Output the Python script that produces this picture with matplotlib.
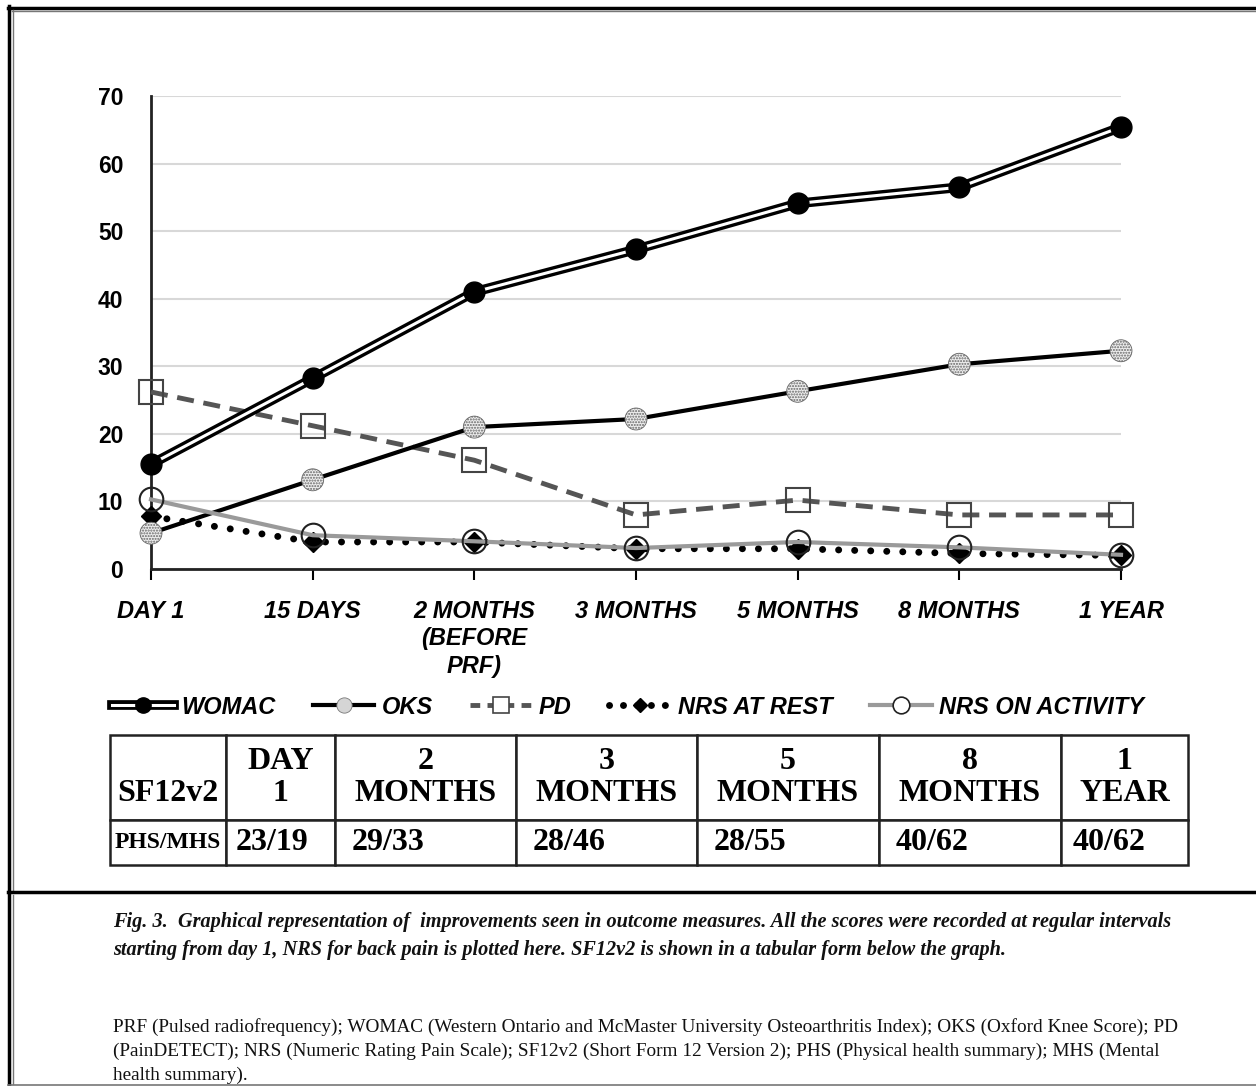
import matplotlib
matplotlib.use("Agg")
import matplotlib.pyplot as plt
from matplotlib.lines import Line2D
from matplotlib.legend_handler import HandlerTuple
from matplotlib.table import Table

# data
timepoints = ["DAY 1", "15 DAYS", "2 MONTHS\n(BEFORE\nPRF)", "3 MONTHS",
              "5 MONTHS", "8 MONTHS", "1 YEAR"]
womac = [15.5, 28.2, 41.0, 47.3, 54.1, 56.5, 65.4]
oks = [5.3, 13.2, 21.0, 22.2, 26.3, 30.3, 32.3]
pd_score = [26.2, 21.2, 16.1, 8.0, 10.2, 8.0, 8.0]
nrs_rest = [7.8, 4.0, 4.0, 3.0, 3.0, 2.3, 2.0]
nrs_activity = [10.3, 5.0, 4.1, 3.1, 4.0, 3.2, 2.1]

table_header = ["SF12v2", "DAY\n1", "2\nMONTHS", "3\nMONTHS", "5\nMONTHS", "8\nMONTHS", "1\nYEAR"]
table_values = ["PHS/MHS", "23/19", "29/33", "28/46", "28/55", "40/62", "40/62"]

caption = ("Fig. 3.  Graphical representation of  improvements seen in outcome measures. All the scores were recorded at regular intervals\n"
           "starting from day 1, NRS for back pain is plotted here. SF12v2 is shown in a tabular form below the graph.")
abbrev = ("PRF (Pulsed radiofrequency); WOMAC (Western Ontario and McMaster University Osteoarthritis Index); OKS (Oxford Knee Score); PD\n"
          "(PainDETECT); NRS (Numeric Rating Pain Scale); SF12v2 (Short Form 12 Version 2); PHS (Physical health summary); MHS (Mental\n"
          "health summary).")

W, H = 1256, 1086
fig = plt.figure(figsize=(W / 100, H / 100), dpi=100)

def box(l, t, r, b):
    # left, top, right, bottom in pixels from top-left -> figure fraction rect
    return [l / W, 1 - b / H, (r - l) / W, (b - t) / H]

sans = ["Liberation Sans", "DejaVu Sans"]
serif = ["Liberation Serif", "DejaVu Serif"]

ax = fig.add_axes(box(151, 96, 1121, 569))
x = list(range(len(timepoints)))

# WOMAC: double line
ax.plot(x, womac, color="black", lw=7, solid_capstyle="butt", zorder=5, clip_on=False)
ax.plot(x, womac, color="white", lw=2.2, zorder=6, clip_on=False)
ax.plot(x, womac, ls="none", marker="o", ms=15, color="black", zorder=7, clip_on=False)

# OKS
ax.plot(x, oks, color="black", lw=3, zorder=4, clip_on=False)
ax.scatter(x, oks, s=250, facecolor="#eeeeee", edgecolor="#666666", hatch="......",
           linewidth=0.6, zorder=5, clip_on=False)

# PD
ax.plot(x, pd_score, color="#555555", lw=3.5, dashes=(3.5, 2), zorder=3, clip_on=False)
ax.plot(x, pd_score, ls="none", marker="s", ms=17, mfc="none", mec="#444444",
        mew=1.5, zorder=3, clip_on=False)

# NRS at rest
ax.plot(x, nrs_rest, color="black", lw=5, dashes=(0.01, 2.3),
        dash_capstyle="round", zorder=3, clip_on=False)
ax.plot(x, nrs_rest, ls="none", marker="D", ms=10, color="black", zorder=3, clip_on=False)

# NRS on activity
ax.plot(x, nrs_activity, color="#9a9a9a", lw=3, zorder=4, clip_on=False)
ax.plot(x, nrs_activity, ls="none", marker="o", ms=17, mfc="none",
        mec="#222222", mew=1.5, zorder=4, clip_on=False)

ax.set_xlim(0, 6)
ax.set_ylim(0, 70)
ax.set_yticks(range(0, 71, 10))
ax.set_xticks(x)
ax.set_xticklabels(timepoints, fontsize=17, fontweight="bold", style="italic",
                   family=sans, linespacing=1.25)
for lab in ax.get_yticklabels():
    lab.set_fontsize(16.5)
    lab.set_fontweight("bold")
    lab.set_family(sans)
ax.tick_params(axis="x", length=8, width=1.5, pad=14, direction="out")
ax.tick_params(axis="y", length=0, pad=20)
ax.grid(axis="y", color="#d8d8d8", lw=1.5)
ax.set_axisbelow(True)
for s in ["top", "right"]:
    ax.spines[s].set_visible(False)
ax.spines["left"].set_linewidth(2)
ax.spines["bottom"].set_linewidth(2)
ax.spines["left"].set_color("#222222")
ax.spines["bottom"].set_color("#222222")

# legend
h_womac = (Line2D([], [], color="black", lw=7), Line2D([], [], color="white", lw=2.2),
           Line2D([], [], ls="none", marker="o", ms=11, color="black"))
h_oks = (Line2D([], [], color="black", lw=3),
         Line2D([], [], ls="none", marker="o", ms=11, mfc="#d5d5d5", mec="#777777", mew=0.6))
h_pd = Line2D([], [], color="#555555", lw=3.5, dashes=(2, 1.5), marker="s", ms=11,
              mfc="white", mec="#444444", mew=1.2)
h_rest = Line2D([], [], color="black", lw=5, dashes=(0.01, 2.0), dash_capstyle="round",
                marker="D", ms=7)
h_act = Line2D([], [], color="#9a9a9a", lw=3, marker="o", ms=12, mfc="white",
               mec="#222222", mew=1.2)
fig.legend([h_womac, h_oks, h_pd, h_rest, h_act],
           ["WOMAC", "OKS", "PD", "NRS AT REST", "NRS ON ACTIVITY"],
           handler_map={tuple: HandlerTuple(ndivide=1)},
           loc="center", bbox_to_anchor=(628 / W, 1 - 707 / H), ncol=5,
           frameon=False, handlelength=2.6, handletextpad=0.3, columnspacing=1.6,
           prop={"family": sans, "weight": "bold", "style": "italic", "size": 17})

# SF12v2 table
tax = fig.add_axes(box(110, 735, 1188, 865))
tax.axis("off")
tbl = Table(tax, bbox=[0, 0, 1, 1])
col_w = [116, 109, 181, 181, 182, 182, 127]
for j, (hd, val) in enumerate(zip(table_header, table_values)):
    hd_txt = "\n" + hd if j == 0 else hd
    c = tbl.add_cell(0, j, col_w[j], 85, text=hd_txt, loc="center", edgecolor="#222222")
    c.get_text().set(family=serif, fontweight="bold", fontsize=23, linespacing=1.1)
    c = tbl.add_cell(1, j, col_w[j], 45, text=val, loc="center" if j == 0 else "left",
                     edgecolor="#222222")
    c.get_text().set(family=serif, fontweight="bold", fontsize=23 if j else 17)
    if j:
        c.PAD = 0.09
tbl.auto_set_font_size(False)
for c in tbl.get_celld().values():
    c.set_linewidth(1.8)
tax.add_table(tbl)

# frame lines
def hline(y, x0, x1, lw, color):
    fig.add_artist(Line2D([x0 / W, x1 / W], [1 - y / H, 1 - y / H], lw=lw, color=color,
                          transform=fig.transFigure))

def vline(xp, y0, y1, lw, color):
    fig.add_artist(Line2D([xp / W, xp / W], [1 - y0 / H, 1 - y1 / H], lw=lw, color=color,
                          transform=fig.transFigure))

hline(7.5, 8, W, 2.5, "black")
hline(11, 12, W, 1, "#777777")
vline(9, 6, 1084, 2.5, "black")
vline(12.5, 10, 890, 1, "#777777")
vline(12.5, 895, 1084, 1, "#777777")
hline(892, 8, W, 2.5, "black")
hline(1084.5, 8, W, 1.2, "#777777")

fig.text(113 / W, 1 - 936 / H, caption, family=serif, style="italic", fontweight="bold",
         fontsize=14.6, linespacing=1.5, va="center", ha="left", color="#111111")
fig.text(113 / W, 1 - 1051 / H, abbrev, family=serif, fontsize=13.85,
         linespacing=1.5, va="center", ha="left", color="#111111")

fig.savefig("out.png", dpi=100)
